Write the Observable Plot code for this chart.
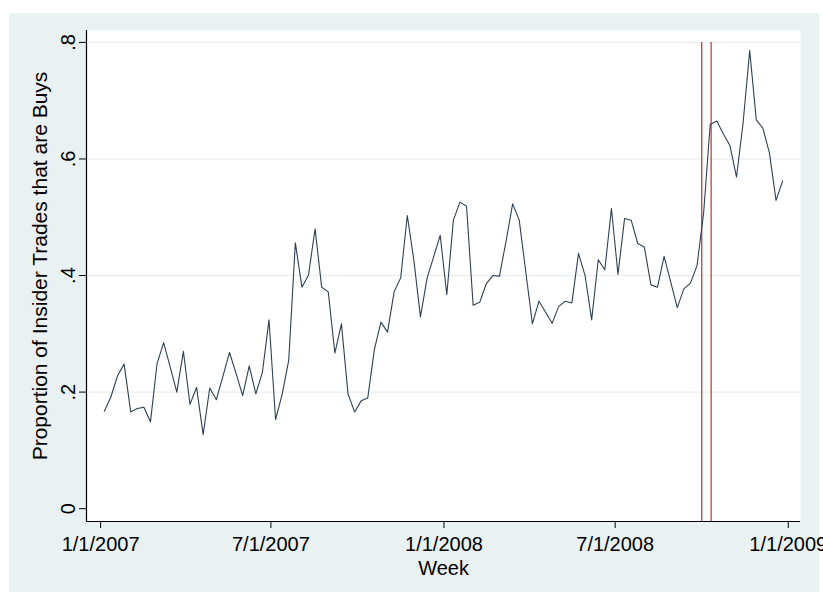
<!DOCTYPE html>
<html>
<head>
<meta charset="utf-8">
<script src="https://cdn.jsdelivr.net/npm/d3@7"></script>
<script src="https://cdn.jsdelivr.net/npm/@observablehq/plot@0.6"></script>
<style>
  html, body { margin: 0; padding: 0; background: #ffffff; }
  #wrap { position: relative; width: 823px; height: 594px; overflow: hidden; }
  #bg { position: absolute; left: 9px; top: 13px; width: 810px; height: 579px; background: #eaf1f3; }
  #chart { position: absolute; left: 0; top: 0; }
</style>
</head>
<body>
<div id="wrap"><div id="bg"></div><div id="chart"></div></div>
<script>
// Weekly share of insider trades that are purchases, first week ending 5 Jan 2007
const firstWeek = "2007-01-05";
const buyShare = [
  0.167, 0.192, 0.228, 0.248, 0.166, 0.172, 0.174, 0.149, 0.249, 0.285,
  0.243, 0.200, 0.270, 0.179, 0.208, 0.127, 0.207, 0.187, 0.227, 0.268,
  0.232, 0.194, 0.245, 0.197, 0.234, 0.324, 0.153, 0.196, 0.255, 0.456,
  0.380, 0.401, 0.480, 0.380, 0.372, 0.267, 0.317, 0.197, 0.166, 0.185,
  0.190, 0.273, 0.320, 0.303, 0.372, 0.396, 0.503, 0.426, 0.329, 0.395,
  0.432, 0.469, 0.367, 0.495, 0.526, 0.519, 0.349, 0.354, 0.386, 0.400,
  0.399, 0.459, 0.523, 0.495, 0.406, 0.317, 0.356, 0.337, 0.318, 0.347,
  0.356, 0.353, 0.438, 0.400, 0.324, 0.427, 0.410, 0.515, 0.402, 0.498,
  0.495, 0.455, 0.449, 0.384, 0.380, 0.433, 0.389, 0.345, 0.377, 0.387,
  0.417, 0.507, 0.659, 0.665, 0.643, 0.623, 0.569, 0.662, 0.786, 0.667,
  0.653, 0.610, 0.529, 0.562
];

// Axis ticks and their printed labels
const xTickDates = ["2007-01-01", "2007-07-01", "2008-01-01", "2008-07-01", "2009-01-01"];
const xTickLabels = ["1/1/2007", "7/1/2007", "1/1/2008", "7/1/2008", "1/1/2009"];
const yTicks = [0, 0.2, 0.4, 0.6, 0.8];
const yTickLabels = ["0", ".2", ".4", ".6", ".8"];
const gridLevels = [0.2, 0.4, 0.6, 0.8];

// Vertical reference lines (early October 2008)
const eventDates = ["2008-10-01", "2008-10-11"];

const xTitle = "Week";
const yTitle = "Proportion of Insider Trades that are Buys";

const start = new Date(firstWeek);
const series = buyShare.map((v, i) => ({ week: d3.utcDay.offset(start, 7 * i), share: v }));
const xTicks = xTickDates.map(d => new Date(d));
const xLabelByTime = new Map(xTicks.map((d, i) => [+d, xTickLabels[i]]));
const events = eventDates.map(d => new Date(d));

const xDomain = [new Date("2006-12-17"), new Date("2009-01-14")];
const yDomain = [-0.022, 0.8204];

const chart = Plot.plot({
  width: 823,
  height: 594,
  marginLeft: 86,
  marginRight: 23,
  marginTop: 30,
  marginBottom: 73,
  style: { fontFamily: "'Liberation Sans', Arial, sans-serif", background: "transparent", color: "#000", overflow: "visible" },
  x: { type: "utc", domain: xDomain },
  y: { domain: yDomain },
  marks: [
    Plot.frame({ fill: "#ffffff", stroke: null }),
    Plot.ruleY(gridLevels, { stroke: "#e6e9ea", strokeWidth: 1 }),
    Plot.ruleX(events, { y1: yDomain[0], y2: 0.8, stroke: "#cc2a2a", strokeWidth: 1.2 }),
    Plot.line(series, { x: "week", y: "share", stroke: "#2e4054", strokeWidth: 1.1 }),
    Plot.ruleX([xDomain[0]], { stroke: "#000", strokeWidth: 1.2 }),
    Plot.ruleY([yDomain[0]], { stroke: "#000", strokeWidth: 1.2 }),
    Plot.axisX({
      ticks: xTicks,
      tickFormat: d => xLabelByTime.get(+d),
      tickSize: 7,
      tickPadding: 8,
      fontSize: 20,
      label: null
    }),
    Plot.axisY({
      ticks: yTicks,
      tickFormat: v => yTickLabels[yTicks.indexOf(v)],
      tickRotate: -90,
      tickSize: 7,
      tickPadding: 5,
      fontSize: 20,
      label: null
    }),
    Plot.text([xTitle], { text: d => d, frameAnchor: "bottom", dy: 53, fontSize: 20 }),
    Plot.text([yTitle], { text: d => d, frameAnchor: "left", textAnchor: "middle", rotate: -90, dx: -46, dy: -10, fontSize: 21 })
  ]
});

document.getElementById("chart").appendChild(chart);
</script>
</body>
</html>
